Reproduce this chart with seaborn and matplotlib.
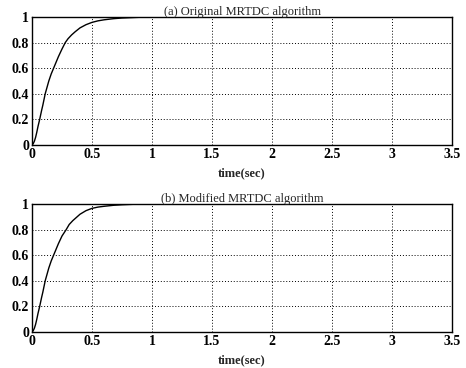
import matplotlib
matplotlib.use("Agg")
import matplotlib.pyplot as plt
import seaborn as sns
import pandas as pd

# Data
t_a = [0, 0.01, 0.02, 0.03, 0.04, 0.05, 0.064, 0.08, 0.09, 0.11, 0.125, 0.14, 0.16, 0.18, 0.20, 0.22, 0.25,
       0.277, 0.30, 0.33, 0.36, 0.40, 0.45, 0.50, 0.55, 0.60, 0.68, 0.75, 0.85, 0.90, 1.00]
y_a = [0, 0.01, 0.03, 0.06, 0.10, 0.145, 0.20, 0.27, 0.31, 0.40, 0.45, 0.50, 0.555, 0.60, 0.645, 0.69, 0.75,
       0.80, 0.83, 0.86, 0.885, 0.915, 0.94, 0.958, 0.97, 0.978, 0.987, 0.992, 0.996, 0.998, 1.00]

t_b = [0, 0.01, 0.02, 0.03, 0.04, 0.05, 0.064, 0.08, 0.09, 0.11, 0.125, 0.14, 0.16, 0.18, 0.20, 0.22, 0.25,
       0.285, 0.31, 0.34, 0.37, 0.40, 0.45, 0.50, 0.55, 0.60, 0.68, 0.75, 0.85, 0.92]
y_b = [0, 0.01, 0.03, 0.06, 0.10, 0.145, 0.20, 0.27, 0.31, 0.40, 0.45, 0.50, 0.555, 0.60, 0.645, 0.69, 0.75,
       0.80, 0.84, 0.87, 0.895, 0.92, 0.948, 0.966, 0.976, 0.982, 0.99, 0.994, 0.998, 1.00]

titles = ["(a) Original MRTDC algorithm", "(b) Modified MRTDC algorithm"]
xticks = [0, 0.5, 1, 1.5, 2, 2.5, 3, 3.5]
xticklabels = ["0", "0.5", "1", "1.5", "2", "2.5", "3", "3.5"]
yticks = [0, 0.2, 0.4, 0.6, 0.8, 1]
yticklabels = ["0", "0.2", "0.4", "0.6", "0.8", "1"]
xlabel = "time(sec)"

sns.set_style("white")
plt.rcParams['font.family'] = ['Liberation Serif', 'DejaVu Serif']

fig = plt.figure(figsize=(4.66, 3.68), dpi=100)
positions = [
    [32/466, 1-145/368, 420/466, 128/368],
    [32/466, 1-332/368, 420/466, 128/368],
]
datasets = [(t_a, y_a), (t_b, y_b)]

for pos, (t, y), title in zip(positions, datasets, titles):
    ax = fig.add_axes(pos)
    df = pd.DataFrame({"t": t, "y": y})
    sns.lineplot(data=df, x="t", y="y", ax=ax, color="black", linewidth=1.0)
    ax.set_xlim(0, 3.5)
    ax.set_ylim(0, 1)
    ax.set_xticks(xticks)
    ax.set_xticklabels(xticklabels, fontsize=10, fontweight="bold")
    ax.set_yticks(yticks)
    ax.set_yticklabels(yticklabels, fontsize=10, fontweight="bold")
    ax.tick_params(direction="in", length=3, width=0.8, pad=2, colors="black")
    ax.grid(True, color="black", linestyle=(0, (1, 2)), linewidth=0.7)
    for s in ax.spines.values():
        s.set_color("black")
        s.set_linewidth(1.0)
    ax.set_title(title, fontsize=9, pad=1.5)
    ax.set_xlabel(xlabel, fontsize=9, fontweight="bold", labelpad=5)
    ax.set_ylabel("")

fig.savefig("out.png", dpi=100)
